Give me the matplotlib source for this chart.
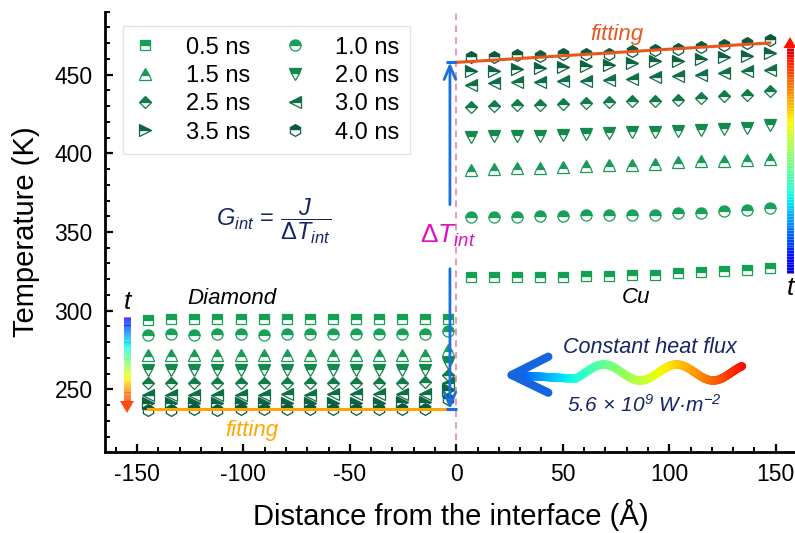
import numpy as np
import matplotlib
matplotlib.use('Agg')
import matplotlib.pyplot as plt
from matplotlib.collections import LineCollection
from matplotlib.patches import Polygon
from matplotlib.lines import Line2D
from matplotlib.ticker import MultipleLocator

plt.rcParams['font.family'] = ['Liberation Sans', 'DejaVu Sans']
plt.rcParams['mathtext.fontset'] = 'custom'
plt.rcParams['mathtext.rm'] = 'Liberation Sans'
plt.rcParams['mathtext.it'] = 'Liberation Sans:italic'
plt.rcParams['mathtext.sf'] = 'Liberation Sans:italic'
plt.rcParams['mathtext.bf'] = 'Liberation Sans:bold'
plt.rcParams['axes.unicode_minus'] = False

# ---------------- data ----------------
labels = ['0.5 ns', '1.0 ns', '1.5 ns', '2.0 ns', '2.5 ns', '3.0 ns', '3.5 ns', '4.0 ns']
markers = ['s', 'o', '^', 'v', 'D', '<', '>', 'h']
colors = ['#14a052', '#17a058', '#199a58', '#13894c', '#117c48', '#0f7045', '#0d6441', '#0b5a3d']

x_diamond = [-144.7, -133.9, -123.0, -112.2, -101.3, -90.5, -79.6, -68.8, -57.9, -47.1, -36.2, -25.4, -14.5, -3.7]
x_cu = [6.9, 17.7, 28.5, 39.3, 50.1, 60.9, 71.7, 82.5, 93.3, 104.1, 114.9, 125.7, 136.5, 147.3]

t05_dia = [294.2, 294.5, 294.5, 294.5, 294.5, 294.6, 294.5, 294.6, 294.6, 295.0, 294.6, 294.6, 294.6, 294.6]
t10_dia = [284.8, 284.9, 284.8, 284.9, 284.9, 284.8, 284.9, 284.9, 284.9, 284.9, 284.9, 285.0, 285.0, 286.8]
t15_dia = [271.8, 271.7, 271.8, 271.8, 271.7, 271.8, 271.8, 271.8, 271.9, 271.8, 271.9, 271.9, 272.0, 275.0]
t20_dia = [262.2, 262.3, 262.2, 262.3, 262.3, 262.2, 262.3, 262.4, 262.3, 262.4, 262.4, 262.5, 262.6, 267.0]
t25_dia = [254.0, 254.1, 254.1, 254.1, 254.0, 254.1, 254.2, 254.1, 254.2, 254.2, 254.3, 254.3, 254.5, 259.2]
t30_dia = [246.6, 246.7, 246.6, 246.7, 246.7, 246.7, 246.8, 246.7, 246.8, 246.8, 246.9, 247.0, 247.2, 253.8]
t35_dia = [241.3, 241.4, 241.4, 241.3, 241.4, 241.4, 241.5, 241.5, 241.5, 241.6, 241.6, 241.7, 241.9, 249.8]
t40_dia = [237.2, 237.2, 237.3, 237.2, 237.3, 237.3, 237.3, 237.4, 237.4, 237.4, 237.5, 237.5, 237.7, 244.0]

t05_cu = [321.2, 321.2, 321.2, 321.6, 321.6, 321.8, 322.0, 322.9, 322.9, 323.7, 324.4, 325.0, 325.9, 327.1]
t10_cu = [359.3, 359.7, 359.3, 360.1, 360.1, 360.6, 360.6, 360.6, 361.0, 361.8, 362.3, 363.1, 364.0, 365.2]
t15_cu = [389.6, 390.1, 390.7, 390.7, 391.3, 391.8, 392.4, 392.8, 393.3, 394.5, 395.0, 395.4, 396.0, 396.6]
t20_cu = [410.4, 410.8, 411.3, 411.3, 411.9, 412.3, 412.9, 413.4, 413.6, 414.0, 415.1, 415.5, 416.1, 417.8]
t25_cu = [429.3, 429.9, 430.5, 430.5, 431.4, 432.0, 432.4, 433.1, 433.5, 434.1, 435.2, 436.2, 437.3, 439.4]
t30_cu = [443.7, 444.7, 445.4, 445.4, 446.2, 446.2, 446.8, 447.5, 448.3, 449.0, 450.0, 451.1, 452.1, 453.2]
t35_cu = [452.6, 452.6, 453.8, 454.3, 454.9, 455.7, 456.4, 457.4, 458.5, 458.9, 460.0, 461.0, 461.7, 463.8]
t40_cu = [461.0, 461.0, 462.3, 462.1, 463.4, 463.4, 463.4, 465.3, 465.9, 466.5, 467.8, 469.1, 470.1, 472.3]

dia_series = [t05_dia, t10_dia, t15_dia, t20_dia, t25_dia, t30_dia, t35_dia, t40_dia]
cu_series = [t05_cu, t10_cu, t15_cu, t20_cu, t25_cu, t30_cu, t35_cu, t40_cu]

dia_fit_T = 237.4
cu_fit_T0 = 457.8
cu_fit_slope = 0.084

msizes = {'s': 7.0, 'o': 8.0, '^': 8.5, 'v': 8.5, 'D': 6.5, '<': 8.5, '>': 8.5, 'h': 8.5}

# ---------------- figure ----------------
fig = plt.figure(figsize=(7.95, 5.33), dpi=100)
ax = fig.add_axes([0.1321, 0.1514, 0.8704, 0.8266])

ax.axvline(0, color='#e283b8', lw=1.2, ls=(0, (4, 3)), zorder=1)

handles = []
for lab, mk, col, yd, yc in zip(labels, markers, colors, dia_series, cu_series):
    kw = dict(ls='none', marker=mk, ms=msizes[mk], color=col, mfc=col,
              mfcalt='white', fillstyle='top', mec=col, mew=0.9)
    ax.plot(x_diamond, yd, zorder=3, **kw)
    ax.plot(x_cu, yc, zorder=3, **kw)
    handles.append(Line2D([], [], label=lab, **kw))

# fitting lines
ax.plot([x_diamond[0], x_diamond[-1]], [dia_fit_T, dia_fit_T], color='#ffa500', lw=2.2, zorder=5)
xc = np.array([0, x_cu[-1]])
ax.plot(xc, cu_fit_T0 + cu_fit_slope * xc, color='#e8561e', lw=2.2, zorder=5)

# Delta T arrows
blue = '#1a6fe0'
xa = -3.0
ax.annotate('', xy=(xa, cu_fit_T0), xytext=(xa, 367.4),
            arrowprops=dict(arrowstyle='->,head_length=0.7,head_width=0.3', color=blue, lw=2.0,
                            shrinkA=0, shrinkB=0, mutation_scale=14), zorder=6)
ax.annotate('', xy=(xa, dia_fit_T), xytext=(xa, 326.7),
            arrowprops=dict(arrowstyle='->,head_length=0.7,head_width=0.3', color=blue, lw=2.0,
                            shrinkA=0, shrinkB=0, mutation_scale=14), zorder=6)
ax.plot([-5, 0], [cu_fit_T0, cu_fit_T0], color=blue, lw=2.2, zorder=6, solid_capstyle='butt')
ax.plot([-5, 0.5], [dia_fit_T, dia_fit_T], color=blue, lw=2.2, zorder=6, solid_capstyle='butt')

# axes styling
ax.set_xlim(-165, 160)
ax.set_ylim(210, 490)
ax.xaxis.set_major_locator(MultipleLocator(50))
ax.xaxis.set_minor_locator(MultipleLocator(10))
ax.yaxis.set_major_locator(MultipleLocator(50))
ax.yaxis.set_minor_locator(MultipleLocator(10))
ax.set_yticks([250, 300, 350, 400, 450])
for s in ['top', 'right']:
    ax.spines[s].set_visible(False)
for s in ['left', 'bottom']:
    ax.spines[s].set_linewidth(2.0)
ax.tick_params(which='major', direction='in', length=6, width=1.6, labelsize=16.5)
ax.tick_params(which='minor', direction='in', length=3.5, width=1.4)
ax.tick_params(axis='x', pad=8)
ax.tick_params(axis='y', pad=9)
ax.set_xlabel('Distance from the interface (Å)', fontsize=21, labelpad=9)
ax.set_ylabel('Temperature (K)', fontsize=21, labelpad=10)

# legend (row-wise order)
order = [0, 2, 4, 6, 1, 3, 5, 7]
leg = ax.legend([handles[i] for i in order], [labels[i] for i in order], ncol=2,
                loc='upper left', bbox_to_anchor=(0.026, 0.9676), borderaxespad=0,
                fontsize=17, frameon=True, fancybox=False, edgecolor='#dddddd',
                handlelength=1.0, handletextpad=1.2, columnspacing=1.4,
                labelspacing=0.27, borderpad=0.45)
leg.get_frame().set_linewidth(1.0)
leg.set_zorder(10)

# texts
navy = '#142466'
ax.text(0.1835, 0.350, 'Diamond', transform=ax.transAxes, ha='center', va='center',
        fontsize=16, style='italic', color='black')
ax.text(0.767, 0.352, 'Cu', transform=ax.transAxes, ha='center', va='center',
        fontsize=16, style='italic', color='black')
ax.text(0.2124, 0.0506, 'fitting', transform=ax.transAxes, ha='center', va='center',
        fontsize=16, style='italic', color='#ffa500')
ax.text(0.740, 0.9494, 'fitting', transform=ax.transAxes, ha='center', va='center',
        fontsize=16, style='italic', color='#e8561e')
ax.text(0.4957, 0.475, r'$\Delta T_{int}$', transform=ax.transAxes, ha='center', va='baseline',
        fontsize=19, color='#e010c0')
ax.text(0.2428, 0.525, r'$G_{int}\,=\,\dfrac{J}{\Delta T_{int}}$', transform=ax.transAxes,
        ha='center', va='center', fontsize=17, color=navy)
ax.text(0.7876, 0.239, 'Constant heat flux', transform=ax.transAxes, ha='center', va='center',
        fontsize=15.5, style='italic', color=navy)
ax.text(0.779, 0.1074, r'$\mathsf{5.6\,\times\,10^{9}\ W·m^{-2}}$', transform=ax.transAxes,
        ha='center', va='center', fontsize=15, color=navy)


# helper: pixel position in reference -> axes fraction
def px(xp, yp):
    return ((xp - 105.0) / 692.0, (452.3 - yp) / 440.6)


jet = plt.get_cmap('jet')

# vertical gradient arrows (time indicators)
def grad_arrow(xp, y_start, y_tip, c0, c1, head_h, head_w, lw, tipcolor):
    y_base = y_tip - head_h if y_tip > y_start else y_tip + head_h
    ys = np.linspace(y_start, y_base, 80)
    pts = np.array([px(xp, y) for y in ys])
    segs = np.stack([pts[:-1], pts[1:]], axis=1)
    cols = jet(np.linspace(c0, c1, len(segs)))
    lc = LineCollection(segs, colors=cols, linewidths=lw, transform=ax.transAxes,
                        clip_on=False, zorder=4, capstyle='butt')
    ax.add_collection(lc)
    tri = [px(xp - head_w / 2, y_base), px(xp + head_w / 2, y_base), px(xp, y_tip)]
    ax.add_patch(Polygon(tri, closed=True, color=tipcolor, transform=ax.transAxes,
                         clip_on=False, zorder=4, lw=0))


grad_arrow(127, 317, 413, 0.12, 0.85, 12, 14, 5.0, '#ff4a10')
grad_arrow(790, 273, 37, 0.08, 0.92, 11, 13, 5.0, '#ff1000')
xt, yt = px(127, 302)
ax.text(xt, yt, 't', transform=ax.transAxes, ha='center', va='center', fontsize=19,
        style='italic', color='black')
xt, yt = px(790, 288)
ax.text(xt, yt, 't', transform=ax.transAxes, ha='center', va='center', fontsize=19,
        style='italic', color='black', clip_on=False)

# wavy heat-flux arrow
xs = np.linspace(742, 512, 300)
ys = np.where(xs >= 575,
              372.5 - 8.0 * np.cos(2 * np.pi * (xs - 676.7) / 73.0),
              378.7 + (xs - 575) / (512 - 575) * (375 - 378.7))
pts = np.array([px(a, b) for a, b in zip(xs, ys)])
segs = np.stack([pts[:-1], pts[1:]], axis=1)
cvals = 0.2 + 0.7 * (xs[:-1] - 512) / (742 - 512)
lc = LineCollection(segs, colors=jet(cvals), linewidths=6.0, transform=ax.transAxes,
                    zorder=4, capstyle='round')
ax.add_collection(lc)
for (a, b) in [(548.3, 356.7), (548.3, 392.7)]:
    p0 = px(511.7, 375)
    p1 = px(a, b)
    ax.plot([p0[0], p1[0]], [p0[1], p1[1]], color='#1565e0', lw=6.0,
            solid_capstyle='round', transform=ax.transAxes, zorder=4)

fig.savefig('out.png', dpi=100)
